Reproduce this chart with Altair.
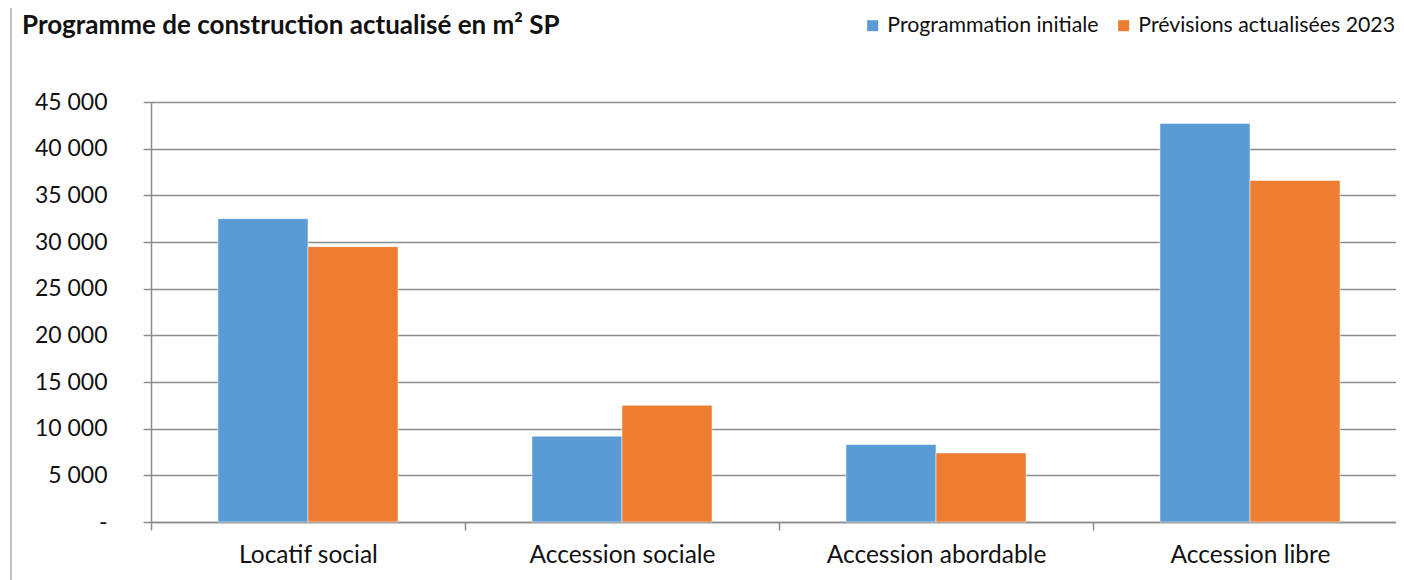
import altair as alt
import pandas as pd

categories = ["Locatif social", "Accession sociale", "Accession abordable", "Accession libre"]
series = ["Programmation initiale", "Prévisions actualisées 2023"]
initiale = [32500, 9200, 8300, 42700]
actualisees = [29500, 12500, 7400, 36600]
y_ticks = [0, 5000, 10000, 15000, 20000, 25000, 30000, 35000, 40000, 45000]
title_text = "Programme de construction actualisé en m² SP"
colors = ["#5B9BD5", "#ED7D31"]

rows = []
for c, a, b in zip(categories, initiale, actualisees):
    rows.append({"cat": c, "serie": series[0], "val": a})
    rows.append({"cat": c, "serie": series[1], "val": b})
df = pd.DataFrame(rows)

W, H = 1245, 420
FONT = "Lato"
GRID = "#8c8c8c"
TXT = "#111111"

label_expr = "datum.value == 0 ? '-\u00a0\u00a0\u00a0' : replace(format(datum.value, ',d'), ',', ' ')"

bars = alt.Chart(df).mark_bar(stroke="white", strokeWidth=1, strokeOpacity=0.5).encode(
    x=alt.X(
        "cat:N",
        sort=categories,
        scale=alt.Scale(range=[0, 1256], paddingInner=0, paddingOuter=0),
        axis=alt.Axis(
            title=None, labelAngle=0, tickBand="extent", labelFontSize=24.5,
            labelPadding=13, tickSize=8, grid=False, labelColor=TXT,
            tickColor=GRID, domainColor=GRID, labelFont=FONT, tickWidth=1.5,
            domainWidth=1.5, labelLimit=0,
        ),
    ),
    xOffset=alt.XOffset("serie:N", sort=series,
                        scale=alt.Scale(paddingOuter=0.744, paddingInner=0)),
    y=alt.Y(
        "val:Q",
        scale=alt.Scale(domain=[0, 45000], nice=False),
        axis=alt.Axis(
            title=None, values=y_ticks, labelExpr=label_expr, grid=True,
            gridColor=GRID, gridWidth=1.5, tickSize=8, tickColor=GRID,
            domainColor=GRID, tickWidth=1.5, domainWidth=1.5,
            labelPadding=36, labelFontSize=23, labelColor=TXT, labelFont=FONT,
        ),
    ),
    color=alt.Color(
        "serie:N",
        sort=series,
        scale=alt.Scale(domain=series, range=colors),
        legend=alt.Legend(
            title=None, orient="none", legendX=711, legendY=-87,
            direction="horizontal", symbolType="square", symbolSize=121,
            labelFontSize=21.3, labelFont=FONT, labelColor=TXT, labelLimit=0,
            columnPadding=14, labelOffset=4, symbolStrokeWidth=0,
        ),
    ),
)

title_df = pd.DataFrame({"t": [title_text]})
title = alt.Chart(title_df).mark_text(
    align="left", baseline="top", font=FONT, fontSize=26,
    fontWeight="bold", color=TXT,
).encode(text="t:N", x=alt.value(-129), y=alt.value(-89))

frame_df = pd.DataFrame({"k": [1]})
frame = alt.Chart(frame_df).mark_rule(color="#c0c0c0", strokeWidth=2).encode(
    x=alt.value(-140), y=alt.value(-94), y2=alt.value(478)
)

chart = alt.layer(bars, title, frame).properties(
    width=W, height=H,
    autosize=alt.AutoSizeParams(type="none"),
    padding={"left": 143, "top": 94, "right": 0, "bottom": 58},
).configure_view(stroke=None)

chart.save("out.html", embed_options={"renderer": "svg", "actions": False})
